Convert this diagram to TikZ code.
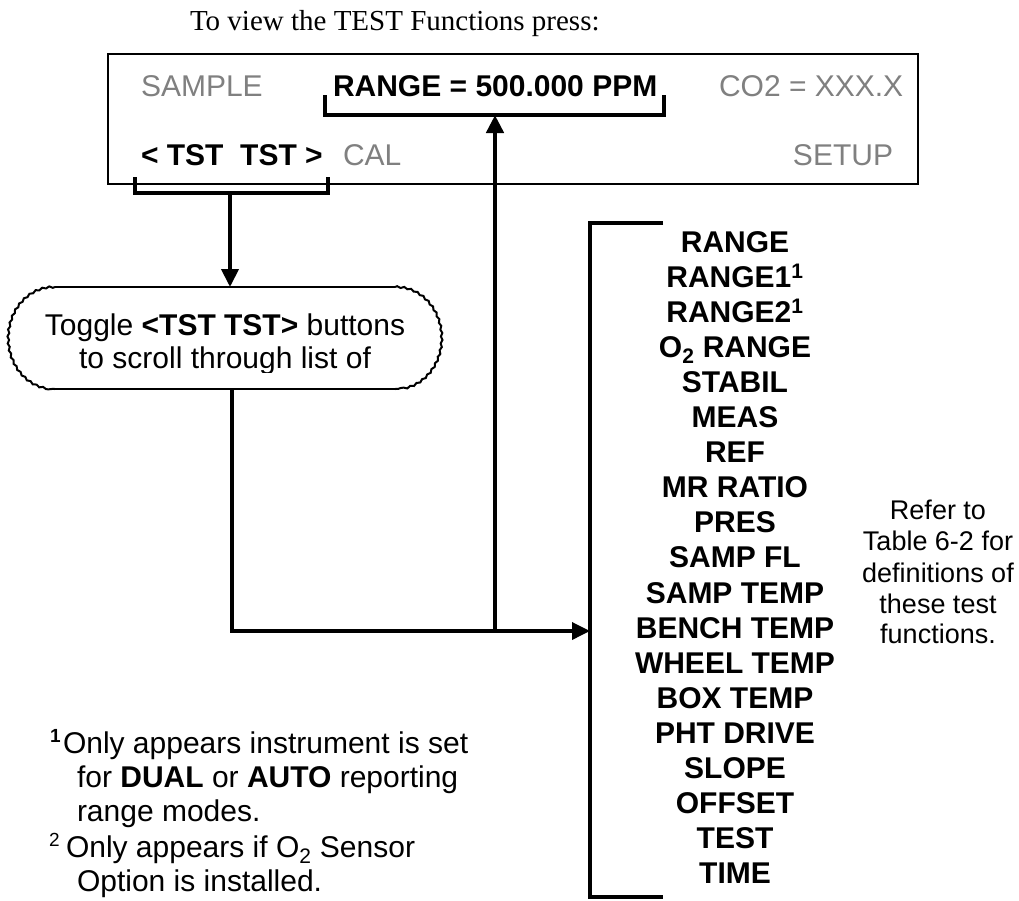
\documentclass[tikz,border=0pt]{standalone}
\usepackage{fontspec}
\setmainfont{Liberation Serif}
\newfontfamily\arial{Liberation Sans}
\usetikzlibrary{arrows.meta,decorations.pathmorphing}
\definecolor{dispgray}{RGB}{128,128,128}
\begin{document}
\begin{tikzpicture}[x=1pt,y=-1pt,
  every node/.style={inner sep=0pt,outer sep=0pt},
  titletxt/.style={anchor=base west,font=\fontsize{29}{34}\selectfont},
  dtxt/.style={anchor=base west,font=\arial\fontsize{30}{36}\selectfont},
  ctxt/.style={anchor=base,font=\arial\fontsize{30}{36}\selectfont},
  ltxt/.style={anchor=base,font=\arial\bfseries\fontsize{30}{36}\selectfont},
  rtxt/.style={anchor=base,font=\arial\fontsize{27}{31}\selectfont},
  ftxt/.style={anchor=base west,font=\arial\fontsize{30}{36}\selectfont},
  brk/.style={line width=4pt},
  callout/.style={line width=2pt},
  tip/.style={-{Triangle[length=18pt,width=17pt]}}]
\useasboundingbox (0,0) rectangle (1019,900);
\fill[white] (0,0) rectangle (1019,900);

% title
\node[titletxt] (title) at (190,30) {To view the TEST Functions press:};

% display box
\node[draw,line width=2pt,anchor=north west,minimum width=810pt,minimum height=130pt] (disp) at (108,54) {};
\node[dtxt,text=dispgray] (sample) at (141,96) {SAMPLE};
\node[dtxt] (range) at (333,96) {\bfseries RANGE = 500.000 PPM};
\node[dtxt,text=dispgray] (co2) at (719,96) {CO2 = XXX.X};
\node[dtxt] (tst) at (141,165) {\bfseries <{} TST\ \ TST >};
\node[dtxt,text=dispgray] (cal) at (343,165) {CAL};
\node[dtxt,text=dispgray,anchor=base east] (setup) at (893,165) {SETUP};

% brackets
\coordinate (rngTL) at (325,95);
\coordinate (rngBL) at (325,115);
\coordinate (rngBR) at (664,115);
\coordinate (rngTR) at (664,95);
\draw[brk] (rngTL) -- (rngBL) -- (rngBR) -- (rngTR);
\coordinate (tstTL) at (135,177);
\coordinate (tstBL) at (135,193);
\coordinate (tstBR) at (328,193);
\coordinate (tstTR) at (328,177);
\draw[brk] (tstTL) -- (tstBL) -- (tstBR) -- (tstTR);

% callout
\coordinate (tstMid) at (230,193);
\coordinate (callTop) at (230,287);
\draw[line width=4pt,tip] (tstMid) -- (callTop);
\draw[callout] (55,287) -- (395,287);
\draw[callout] (55,389) -- (395,389);
\draw[callout,decorate,decoration={snake,amplitude=0.8pt,segment length=7pt}]
  (55,287) arc[start angle=90,end angle=270,x radius=45pt,y radius=51pt];
\draw[callout,decorate,decoration={snake,amplitude=0.8pt,segment length=7pt}]
  (395,287) arc[start angle=90,end angle=-90,x radius=45pt,y radius=51pt];
\begin{scope}
  \clip (0,280) rectangle (450,372);
  \node[ctxt] (cl1) at (225,335) {Toggle \textbf{<TST TST>} buttons};
  \node[ctxt] (cl2) at (225,368) {to scroll through list of};
\end{scope}

% connectors
\coordinate (callBot) at (232,389);
\coordinate (junc) at (232,631);
\coordinate (upJ) at (495,631);
\coordinate (rngMid) at (495,115);
\coordinate (barIn) at (590,631);
\draw[line width=3.5pt,tip] (callBot) -- (junc) -- (barIn);
\draw[line width=4.5pt,tip] (upJ) -- (rngMid);

% list bracket
\coordinate (barTS) at (663,223);
\coordinate (barT) at (590,223);
\coordinate (barB) at (590,897);
\coordinate (barBS) at (663,897);
\draw[line width=4pt] (barTS) -- (barT) -- (barB) -- (barBS);

\foreach \t [count=\i from 0] in {RANGE,{RANGE1\textsuperscript{1}},{RANGE2\textsuperscript{1}},{O\textsubscript{2} RANGE},STABIL,MEAS,REF,MR RATIO,PRES,SAMP FL,SAMP TEMP,BENCH TEMP,WHEEL TEMP,BOX TEMP,PHT DRIVE,SLOPE,OFFSET,TEST,TIME}
  \node[ltxt] (l\i) at (735,252+35.1*\i) {\t};

% right note
\node[rtxt] (r1) at (938,519) {Refer to};
\node[rtxt] (r2) at (938,550) {Table 6-2 for};
\node[rtxt] (r3) at (938,582) {definitions of};
\node[rtxt] (r4) at (938,613) {these test};
\node[rtxt] (r5) at (938,643) {functions.};

% footnotes
\node[anchor=base west,font=\arial\bfseries\fontsize{19}{19}\selectfont] (fn1m) at (50,742) {1};
\node[ftxt] (fn1a) at (63,753) {Only appears instrument is set};
\node[ftxt] (fn1b) at (77,787) {for \textbf{DUAL} or \textbf{AUTO} reporting};
\node[ftxt] (fn1c) at (77,821) {range modes.};
\node[anchor=base west,font=\arial\fontsize{19}{19}\selectfont] (fn2m) at (49,846) {2};
\node[ftxt] (fn2a) at (66,857) {Only appears if O\textsubscript{2} Sensor};
\node[ftxt] (fn2b) at (77,891) {Option is installed.};
\end{tikzpicture}
\end{document}
